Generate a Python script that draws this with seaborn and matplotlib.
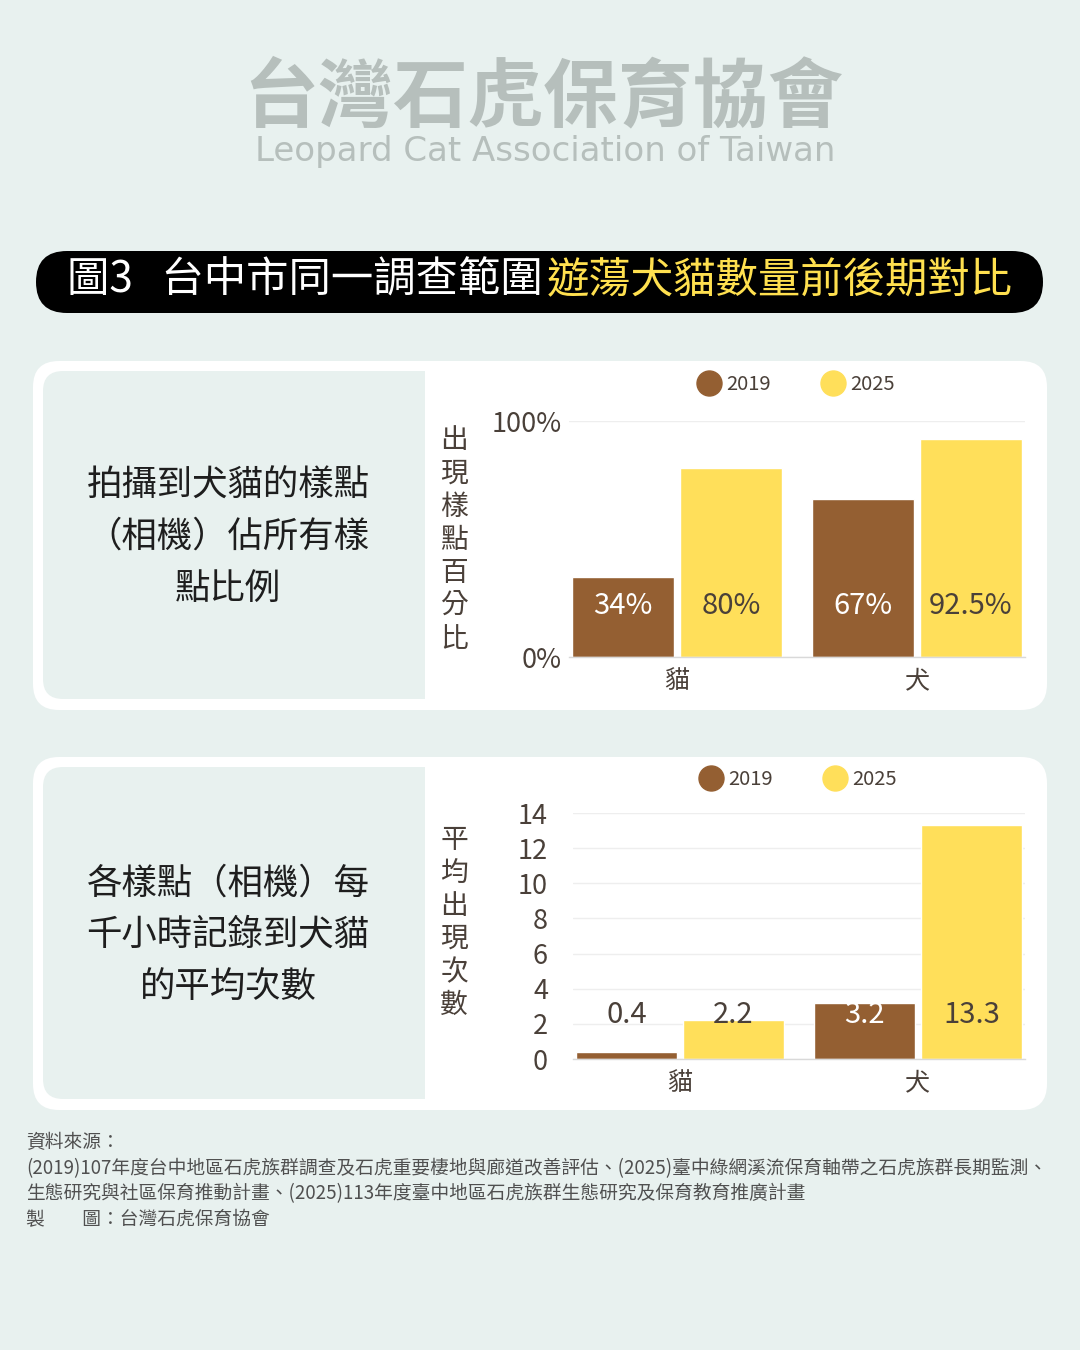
import numpy as np
import pandas as pd
import seaborn as sns
import matplotlib.pyplot as plt
from matplotlib.patches import FancyBboxPatch, Rectangle
from matplotlib.lines import Line2D

# ---- data ----
species = ['貓', '犬']
years = ['2019', '2025']
pct_2019 = [34, 67]
pct_2025 = [80, 92.5]
rate_2019 = [0.4, 3.2]
rate_2025 = [2.2, 13.3]
pct_ticks = [0, 100]
pct_ticklabels = ['0%', '100%']
rate_ticks = [0, 2, 4, 6, 8, 10, 12, 14]

title_white = '圖3   台中市同一調查範圍'
title_yellow = '遊蕩犬貓數量前後期對比'
panel1_text = ['拍攝到犬貓的樣點', '（相機）佔所有樣', '點比例']
panel2_text = ['各樣點（相機）每', '千小時記錄到犬貓', '的平均次數']
panel1_ylabel = '出現樣點百分比'
panel2_ylabel = '平均出現次數'
source_lines = [
    '資料來源：',
    '(2019)107年度台中地區石虎族群調查及石虎重要棲地與廊道改善評估、(2025)臺中綠網溪流保育軸帶之石虎族群長期監測、',
    '生態研究與社區保育推動計畫、(2025)113年度臺中地區石虎族群生態研究及保育教育推廣計畫',
    '製　　圖：台灣石虎保育協會',
]

BG = '#E8F1EF'
BROWN = '#945F32'
YELLOW = '#FFDF5A'
INK = '#4A4039'
W, H = 1080, 1350

sns.set_theme(style='white')
plt.rcParams['font.family'] = ['Noto Sans CJK TC', 'DejaVu Sans']

fig = plt.figure(figsize=(W / 100, H / 100), dpi=100, facecolor=BG)

# decoration layer in pixel coordinates
deco = fig.add_axes([0, 0, 1, 1], zorder=0)
deco.set_xlim(0, W)
deco.set_ylim(H, 0)
deco.axis('off')


def px_rect(x0, y0, x1, y1):
    return [x0 / W, 1 - y1 / H, (x1 - x0) / W, (y1 - y0) / H]


def rounded(x0, y0, x1, y1, r, color):
    deco.add_patch(FancyBboxPatch((x0, y0), x1 - x0, y1 - y0,
                                  boxstyle=f'round,pad=0,rounding_size={r}',
                                  fc=color, ec='none'))


# header logo
deco.text(543, 98, '台灣石虎保育協會', fontsize=54, weight='bold',
          color='#B6BFBC', ha='center', va='center')
deco.text(545, 152, 'Leopard Cat Association of Taiwan', fontsize=24.5,
          family='DejaVu Sans', color='#B6BFBC', ha='center', va='center')

# title banner
rounded(36, 251, 1043, 313, 31, 'black')
deco.text(543, 281, title_white, fontsize=30.5, color='white', ha='right', va='center')
deco.text(547, 281, title_yellow, fontsize=30.5, color='#FFE04F', ha='left', va='center')

# panels
for (py0, py1), lines, ylab in [((361, 710), panel1_text, panel1_ylabel),
                                ((757, 1110), panel2_text, panel2_ylabel)]:
    rounded(33, py0, 1047, py1, 26, 'white')
    rounded(43, py0 + 10, 425, py1 - 11, 20, BG)
    deco.add_patch(Rectangle((400, py0 + 10), 25, py1 - py0 - 21, fc=BG, ec='none'))
    cy = (py0 + py1) / 2
    for i, line in enumerate(lines):
        deco.text(228, cy - 50 + i * 51.5, line, fontsize=25.5, color='#1E1E1E',
                  ha='center', va='center')

# vertical y labels
for chars, y_first in [(panel1_ylabel, 440.5), (panel2_ylabel, 839.5)]:
    for i, ch in enumerate(chars):
        deco.text(454, y_first + i * 33.1, ch, fontsize=20, color=INK,
                  ha='center', va='center')

# footer
for i, line in enumerate(source_lines):
    deco.text(26, 1143 + i * 25.5, line, fontsize=13.5, color='#505050',
              ha='left', va='center')


def bar_chart(rect, v2019, v2025, ticks, ticklabels, ymax, label_y, fmt,
              legend_xy, ypad):
    ax = fig.add_axes(px_rect(*rect), zorder=2)
    ax.set_facecolor('none')
    df = pd.DataFrame({
        'species': species * 2,
        'year': [years[0]] * len(species) + [years[1]] * len(species),
        'value': list(v2019) + list(v2025),
    })
    sns.barplot(data=df, x='species', y='value', hue='year', order=species,
                hue_order=years, palette=[BROWN, YELLOW], saturation=1,
                width=0.9, gap=0.05, legend=False, ax=ax, zorder=2)
    ax.set_xlim(-0.45, 1.45)
    ax.set_ylim(0, ymax)
    ax.set_yticks(ticks)
    ax.set_yticklabels(ticklabels)
    ax.set_xlabel('')
    ax.set_ylabel('')
    ax.yaxis.grid(True, color='#EEEEEE', lw=1)
    ax.set_axisbelow(True)
    for s in ['top', 'right', 'left']:
        ax.spines[s].set_visible(False)
    ax.spines['bottom'].set_color('#D9D9D9')
    ax.spines['bottom'].set_linewidth(1)
    ax.tick_params(axis='y', length=0, pad=ypad, labelsize=19.5, labelcolor=INK)
    ax.tick_params(axis='x', length=0, pad=8, labelsize=18, labelcolor=INK)

    for container, year, vals in zip(ax.containers, years, [v2019, v2025]):
        for bar, v in zip(container, vals):
            color = 'white' if (year == years[0] and v > label_y) else INK
            ax.text(bar.get_x() + bar.get_width() / 2, label_y, fmt(v),
                    ha='center', va='center', fontsize=21, color=color, zorder=3)

    handles = [Line2D([0], [0], marker='o', ls='', ms=18, mfc=c, mec=c)
               for c in [BROWN, YELLOW]]
    ax.legend(handles, years, ncol=2, frameon=False, loc='center',
              bbox_to_anchor=(legend_xy[0] / W, 1 - legend_xy[1] / H),
              bbox_transform=fig.transFigure, fontsize=14.5, labelcolor=INK,
              handletextpad=0.35, columnspacing=2.6, handlelength=1.0)
    return ax


bar_chart((569, 421, 1025, 657), pct_2019, pct_2025, pct_ticks, pct_ticklabels,
          100, 21.6, lambda v: f'{v:g}%', (797, 385), 5)
bar_chart((573, 813, 1025, 1059), rate_2019, rate_2025, rate_ticks,
          [str(t) for t in rate_ticks], 14, 2.48, lambda v: f'{v:g}', (799, 780), 18)

fig.savefig('out.png', dpi=100, facecolor=BG)
